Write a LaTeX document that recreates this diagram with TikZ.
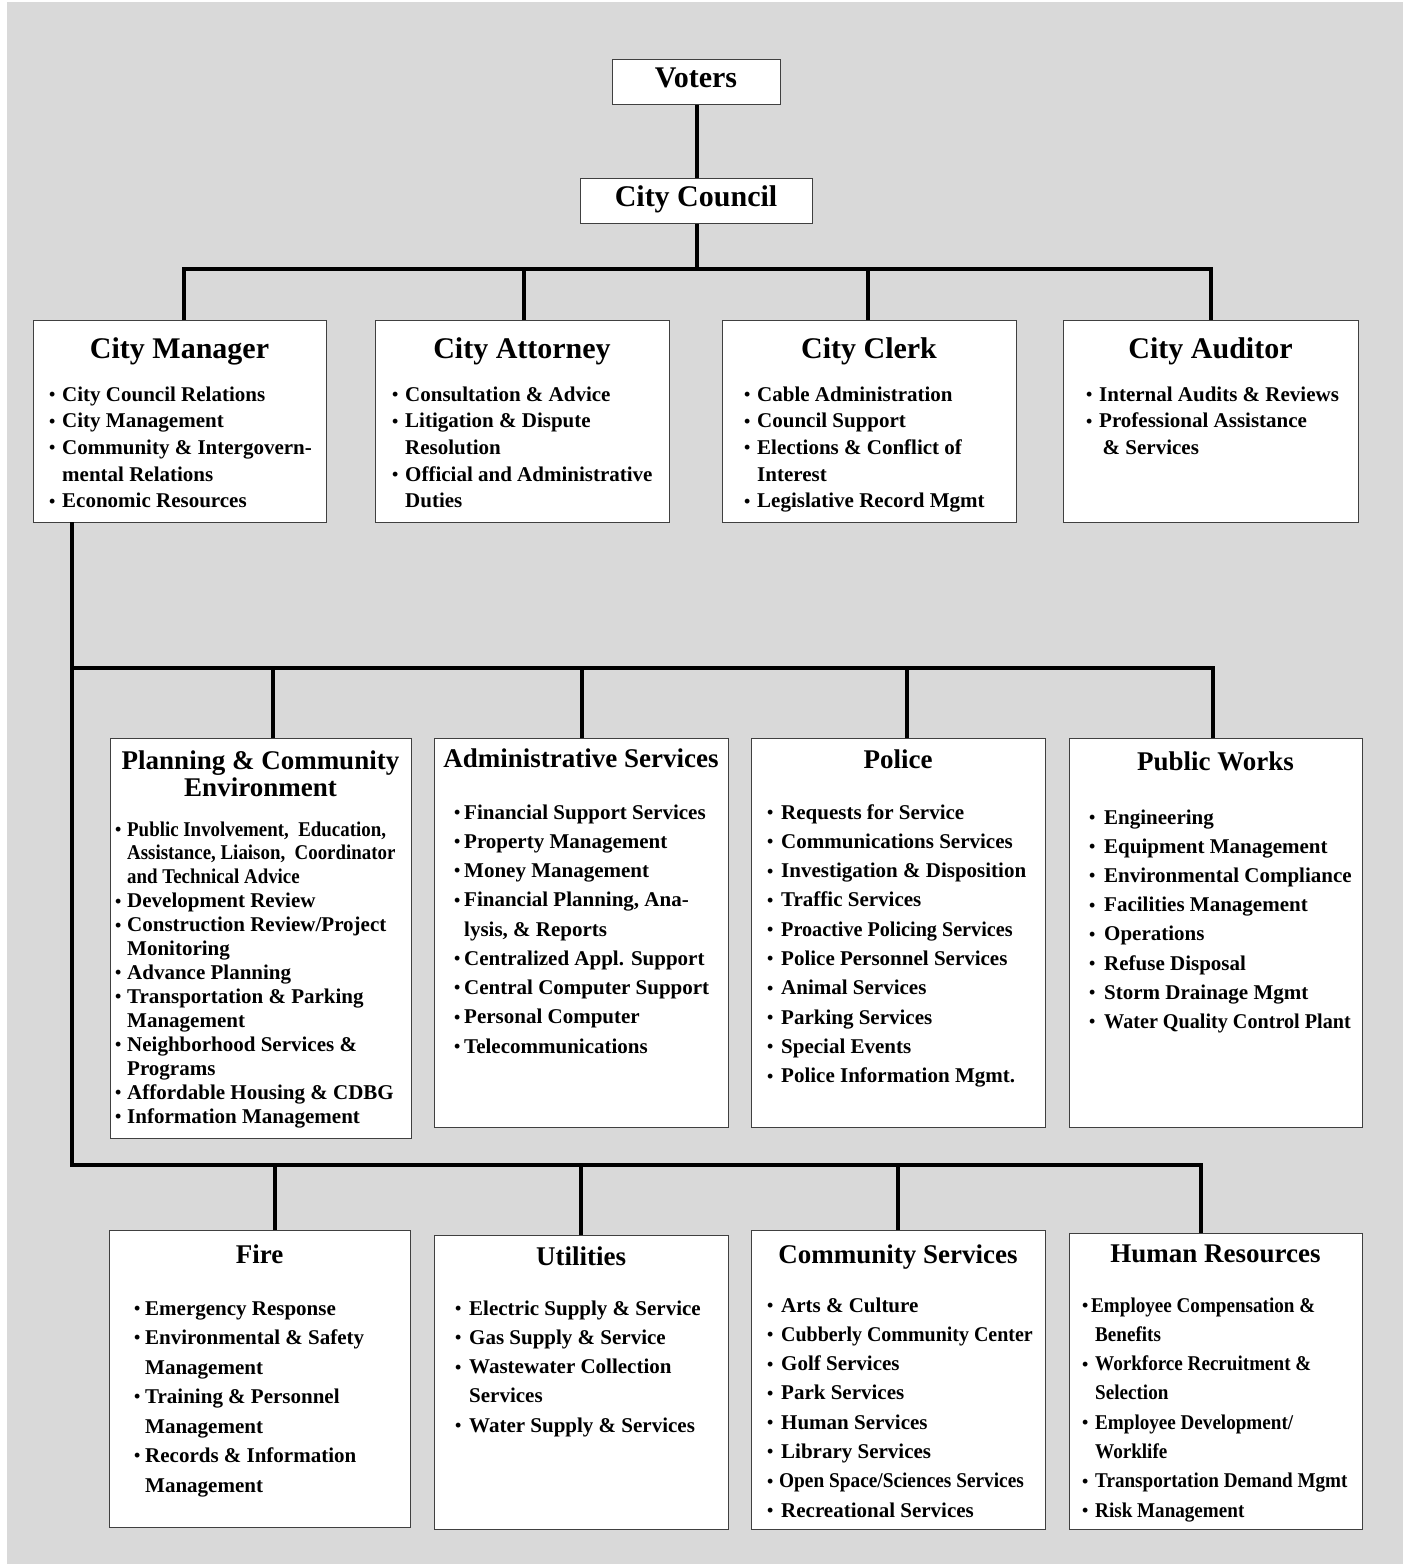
\documentclass[tikz,border=0pt]{standalone}
\usepackage{fontspec}
\setmainfont{Liberation Serif}
\usepackage{graphicx}
\usepackage{array}
\newlength\bw
\newcommand\B{\makebox[\bw][l]{\raisebox{0.6pt}{\scalebox{0.85}{\textbullet}}}}
\newcommand\C[2][0.9]{\scalebox{#1}[1]{#2}}
\tikzset{
  box/.style={draw=black!75, line width=1.3pt, fill=white, anchor=north west, inner sep=0pt},
  conn/.style={line width=4pt, black},
  ttl/.style={font=\fontsize{30}{34}\selectfont\bfseries, anchor=base, inner sep=0pt},
  sttl/.style={font=\fontsize{27}{27}\selectfont\bfseries, anchor=base, inner sep=0pt},
  lst/.style={anchor=base west, inner sep=0pt, font=\bfseries},
}
\begin{document}
\begin{tikzpicture}[x=1pt,y=-1pt]
\useasboundingbox (0,0) rectangle (1403,1564);
\fill[white] (0,0) rectangle (1403,1564);
\fill[black!15] (7,2) rectangle (1403,1564);

% boxes
\node[box, minimum width=168, minimum height=45] (voters) at (612,59) {};
\node[box, minimum width=232, minimum height=45] (council) at (580,178) {};
\node[box, minimum width=293, minimum height=202] (cm) at (33,320) {};
\node[box, minimum width=294, minimum height=202] (att) at (375,320) {};
\node[box, minimum width=294, minimum height=202] (clk) at (722,320) {};
\node[box, minimum width=295, minimum height=202] (aud) at (1063,320) {};
\node[box, minimum width=301, minimum height=400] (plan) at (110,738) {};
\node[box, minimum width=294, minimum height=389] (adm) at (434,738) {};
\node[box, minimum width=294, minimum height=389] (pol) at (751,738) {};
\node[box, minimum width=293, minimum height=389] (pw) at (1069,738) {};
\node[box, minimum width=301, minimum height=297] (fire) at (109,1230) {};
\node[box, minimum width=294, minimum height=294] (util) at (434,1235) {};
\node[box, minimum width=294, minimum height=299] (cs) at (751,1230) {};
\node[box, minimum width=293, minimum height=296] (hr) at (1069,1233) {};

% connectors
\coordinate (b1) at (696,269);
\coordinate (s0) at (72,522);
\coordinate (s1) at (72,668);
\coordinate (s2) at (72,1165);
\coordinate (dcm) at ([xshift=3.5pt]cm.north);
\coordinate (datt) at ([xshift=1pt]att.north);
\coordinate (dclk) at ([xshift=-2pt]clk.north);
\coordinate (daud) at ([xshift=-0.5pt]aud.north);
\coordinate (dplan) at ([xshift=11.5pt]plan.north);
\coordinate (dadm) at (adm.north);
\coordinate (dpol) at ([xshift=8pt]pol.north);
\coordinate (dpw) at ([xshift=-3.5pt]pw.north);
\coordinate (dfire) at ([xshift=14.5pt]fire.north);
\coordinate (dutil) at ([xshift=-1pt]util.north);
\coordinate (dcs) at ([xshift=-1pt]cs.north);
\coordinate (dhr) at ([xshift=-15.5pt]hr.north);

\draw[conn] (voters.south) -- (council.north);
\draw[conn] (council.south) -- (council.south |- b1);
\draw[conn] (dcm) |- (b1) -| (daud);
\draw[conn] (datt) -- (datt |- b1);
\draw[conn] (dclk) -- (dclk |- b1);
\draw[conn] (s0) -- (s2) -| (dhr);
\draw[conn] (s1) -| (dpw);
\draw[conn] (dplan) -- (dplan |- s1);
\draw[conn] (dadm) -- (dadm |- s1);
\draw[conn] (dpol) -- (dpol |- s1);
\draw[conn] (dfire) -- (dfire |- s2);
\draw[conn] (dutil) -- (dutil |- s2);
\draw[conn] (dcs) -- (dcs |- s2);

% titles
\node[ttl] (votersT) at (696,87) {Voters};
\node[ttl] (councilT) at (696,206) {City Council};
\node[ttl] (cmT) at (179.5,358) {City Manager};
\node[ttl] (attT) at (522,358) {City Attorney};
\node[ttl] (clkT) at (869,358) {City Clerk};
\node[ttl] (audT) at (1210.5,358) {City Auditor};
\node[sttl] (planT) at (260.5,769) {\begin{tabular}[t]{@{}c@{}}Planning \& Community\\[0pt]Environment\end{tabular}};
\node[sttl] (admT) at (581,767) {Administrative Services};
\node[sttl] (polT) at (898,768) {Police};
\node[sttl] (pwT) at (1215.5,770) {Public Works};
\node[sttl] (fireT) at (259.5,1263) {Fire};
\node[sttl] (utilT) at (581,1265) {Utilities};
\node[sttl] (csT) at (898,1263) {Community Services};
\node[sttl] (hrT) at (1215.5,1262) {Human Resources};

% lists
\node[lst] (cmL) at (49,401) {\fontsize{21}{26.7}\selectfont\setlength\bw{13pt}%
\begin{tabular}[t]{@{}l@{}l@{}}
\B&City Council Relations\\
\B&City Management\\
\B&Community \& Intergovern-\\
&mental Relations\\
\B&Economic Resources
\end{tabular}};
\node[lst] (attL) at (392,401) {\fontsize{21}{26.7}\selectfont\setlength\bw{13pt}%
\begin{tabular}[t]{@{}l@{}l@{}}
\B&Consultation \& Advice\\
\B&Litigation \& Dispute\\
&Resolution\\
\B&Official and Administrative\\
&Duties
\end{tabular}};
\node[lst] (clkL) at (744,401) {\fontsize{21}{26.7}\selectfont\setlength\bw{13pt}%
\begin{tabular}[t]{@{}l@{}l@{}}
\B&Cable Administration\\
\B&Council Support\\
\B&Elections \& Conflict of\\
&Interest\\
\B&Legislative Record Mgmt
\end{tabular}};
\node[lst] (audL) at (1086,401) {\fontsize{21}{26.7}\selectfont\setlength\bw{13pt}%
\begin{tabular}[t]{@{}l@{}l@{}}
\B&Internal Audits \& Reviews\\
\B&Professional Assistance\\
&\,\& Services
\end{tabular}};
\node[lst] (planL) at (115,836) {\fontsize{21}{23.92}\selectfont\setlength\bw{12pt}%
\begin{tabular}[t]{@{}l@{}l@{}}
\B&\C{Public Involvement,\ \ Education,}\\
&\C{Assistance, Liaison,\ \ Coordinator}\\
&\C{and Technical Advice}\\
\B&Development Review\\
\B&Construction Review/Project\\
&Monitoring\\
\B&Advance Planning\\
\B&Transportation \& Parking\\
&Management\\
\B&Neighborhood Services \&\\
&Programs\\
\B&Affordable Housing \& CDBG\\
\B&Information Management
\end{tabular}};
\node[lst] (admL) at (454,819) {\fontsize{21}{29.25}\selectfont\setlength\bw{10pt}%
\begin{tabular}[t]{@{}l@{}l@{}}
\B&Financial Support Services\\
\B&Property Management\\
\B&Money Management\\
\B&Financial Planning, Ana-\\
&lysis, \& Reports\\
\B&Centralized Appl. Support\\
\B&Central Computer Support\\
\B&Personal Computer\\
\B&Telecommunications
\end{tabular}};
\node[lst] (polL) at (767,819) {\fontsize{21}{29.3}\selectfont\setlength\bw{14pt}%
\begin{tabular}[t]{@{}l@{}l@{}}
\B&Requests for Service\\
\B&Communications Services\\
\B&Investigation \& Disposition\\
\B&Traffic Services\\
\B&\C[0.96]{Proactive Policing Services}\\
\B&Police Personnel Services\\
\B&Animal Services\\
\B&Parking Services\\
\B&Special Events\\
\B&Police Information Mgmt.
\end{tabular}};
\node[lst] (pwL) at (1089,824) {\fontsize{21}{29.2}\selectfont\setlength\bw{15pt}%
\begin{tabular}[t]{@{}l@{}l@{}}
\B&Engineering\\
\B&Equipment Management\\
\B&Environmental Compliance\\
\B&Facilities Management\\
\B&Operations\\
\B&Refuse Disposal\\
\B&Storm Drainage Mgmt\\
\B&\C[0.96]{Water Quality Control Plant}
\end{tabular}};
\node[lst] (fireL) at (134,1315) {\fontsize{21}{29.5}\selectfont\setlength\bw{11pt}%
\begin{tabular}[t]{@{}l@{}l@{}}
\B&Emergency Response\\
\B&Environmental \& Safety\\
&Management\\
\B&Training \& Personnel\\
&Management\\
\B&Records \& Information\\
&Management
\end{tabular}};
\node[lst] (utilL) at (455,1315) {\fontsize{21}{29.3}\selectfont\setlength\bw{14pt}%
\begin{tabular}[t]{@{}l@{}l@{}}
\B&Electric Supply \& Service\\
\B&Gas Supply \& Service\\
\B&Wastewater Collection\\
&Services\\
\B&Water Supply \& Services
\end{tabular}};
\node[lst] (csL) at (767,1312) {\fontsize{21}{29.3}\selectfont\setlength\bw{14pt}%
\begin{tabular}[t]{@{}l@{}l@{}}
\B&Arts \& Culture\\
\B&\C[0.95]{Cubberly Community Center}\\
\B&Golf Services\\
\B&Park Services\\
\B&Human Services\\
\B&Library Services\\
\B&\hspace*{-2pt}\C[0.92]{Open Space/Sciences Services}\\
\B&Recreational Services
\end{tabular}};
\node[lst] (hrL) at (1082,1312) {\fontsize{21}{29.3}\selectfont\setlength\bw{13pt}%
\begin{tabular}[t]{@{}l@{}l@{}}
\B&\hspace*{-4pt}\C[0.91]{Employee Compensation \&}\\
&\C[0.91]{Benefits}\\
\B&\C[0.91]{Workforce Recruitment \&}\\
&\C[0.91]{Selection}\\
\B&\C[0.91]{Employee Development/}\\
&\C[0.91]{Worklife}\\
\B&\C[0.91]{Transportation Demand Mgmt}\\
\B&\C[0.91]{Risk Management}
\end{tabular}};
\end{tikzpicture}
\end{document}
